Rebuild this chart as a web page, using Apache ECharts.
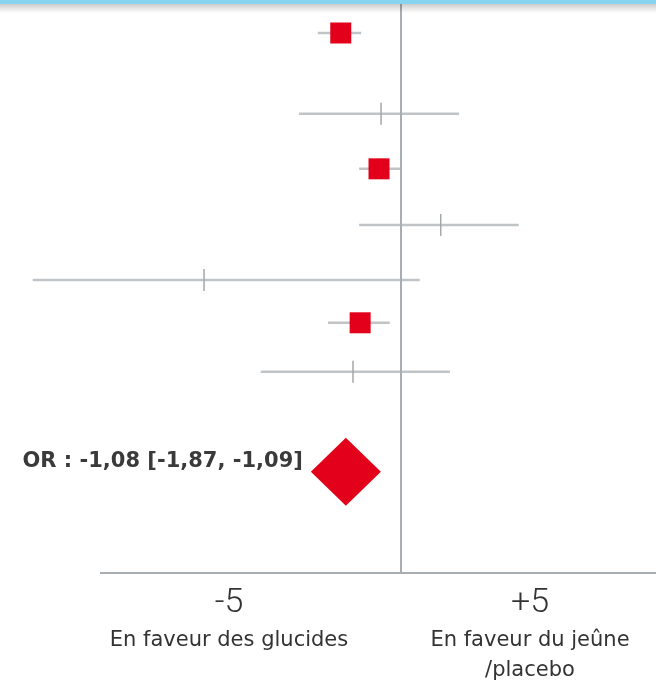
<!DOCTYPE html>
<html><head><meta charset="utf-8">
<script src="https://cdn.jsdelivr.net/npm/echarts@6/dist/echarts.min.js"></script>
<style>html,body{margin:0;padding:0;background:#fff}#c{width:656px;height:683px}</style>
</head><body><div id="c"></div>
<script>
// ---- data ----
const rowPos   = [0.60, 2.07, 3.07, 4.09, 5.09, 5.87, 6.76];
const estimate = [-1.18, -0.39, -0.43, 0.78, -3.86, -0.80, -0.94];
const ciLow    = [-1.63, -2.00, -0.82, -0.82, -7.22, -1.43, -2.75];
const ciHigh   = [-0.78, 1.14, 0.00, 2.31, 0.37, -0.22, 0.96];
const marker   = ['square', 'tick', 'square', 'tick', 'tick', 'square', 'tick'];
const pooledEstimate = -1.08;
const pooledRow = 8.58;
const pooledLabel = 'OR : -1,08 [-1,87, -1,09]';
const tickLabels = ['-5', '+5'];
const sideLabels = [['En faveur des glucides'], ['En faveur du jeûne', '/placebo']];

const chart = echarts.init(document.getElementById('c'), null, {renderer: 'canvas'});
const ciData = rowPos.map((r, i) => [ciLow[i], ciHigh[i], r, estimate[i], marker[i] === 'tick' ? 1 : 0]);
const squareData = rowPos.map((r, i) => marker[i] === 'square' ? [estimate[i], r] : null).filter(Boolean);

const labelX = [229, 530];
const graphics = [
  {type: 'rect', left: 0, top: 3, shape: {width: 656, height: 10}, z: 10,
   style: {fill: new echarts.graphic.LinearGradient(0, 0, 0, 1, [
     {offset: 0, color: 'rgba(0,0,0,0.22)'}, {offset: 1, color: 'rgba(0,0,0,0)'}])}},
  {type: 'rect', left: 0, top: 0, shape: {width: 656, height: 4}, z: 11,
   style: {fill: '#86d4ef'}}
];
tickLabels.forEach((t, i) => {
  graphics.push({type: 'text', x: labelX[i], y: 603, z: 10,
    style: {text: t, align: 'center', verticalAlign: 'middle',
      font: '300 34px Roboto', fill: '#333'}});
  sideLabels[i].forEach((line, j) => {
    graphics.push({type: 'text', x: labelX[i], y: 641 + j * 30, z: 10,
      style: {text: line, align: 'center', verticalAlign: 'middle',
        font: 'normal 21px "DejaVu Sans"', fill: '#333'}});
  });
});

chart.setOption({
  animation: false,
  grid: {left: 0, right: 0, top: 0, bottom: 110},
  xAxis: {type: 'value', min: -7.86, max: 5.0, show: false},
  yAxis: {type: 'value', min: 0, max: 10.42, inverse: true, show: false},
  series: [
    {
      type: 'custom',
      data: ciData,
      z: 2,
      renderItem: function (params, api) {
        const a = api.coord([api.value(0), api.value(2)]);
        const b = api.coord([api.value(1), api.value(2)]);
        const c = api.coord([api.value(3), api.value(2)]);
        const children = [{
          type: 'line',
          shape: {x1: a[0], y1: a[1], x2: b[0], y2: b[1]},
          style: {stroke: '#c0c4c7', lineWidth: 2.5}
        }];
        if (api.value(4) === 1) {
          children.push({
            type: 'line',
            shape: {x1: c[0], y1: c[1] - 11, x2: c[0], y2: c[1] + 11},
            style: {stroke: '#a3a8ab', lineWidth: 1.5}
          });
        }
        return {type: 'group', children: children};
      }
    },
    {
      type: 'scatter',
      data: squareData,
      symbol: 'rect',
      symbolSize: 21,
      z: 4,
      itemStyle: {color: '#e2001a', opacity: 1}
    },
    {
      type: 'scatter',
      data: [[pooledEstimate, pooledRow]],
      symbol: 'diamond',
      symbolSize: [70, 68],
      z: 4,
      itemStyle: {color: '#e2001a', opacity: 1},
      label: {
        show: true, position: 'left', distance: 8, offset: [0, -10],
        formatter: pooledLabel,
        fontFamily: 'DejaVu Sans', fontWeight: 'bold', fontSize: 21, color: '#3a3a3a'
      }
    },
    {
      type: 'line',
      data: [],
      z: 1,
      markLine: {
        silent: true, symbol: 'none', label: {show: false},
        lineStyle: {color: '#a8adb1', width: 2, type: 'solid'},
        data: [
          [{coord: [0, 0]}, {coord: [0, 10.42]}],
          [{coord: [-5.9, 10.42]}, {coord: [5.0, 10.42]}]
        ]
      }
    }
  ],
  graphic: graphics
});
</script></body></html>
